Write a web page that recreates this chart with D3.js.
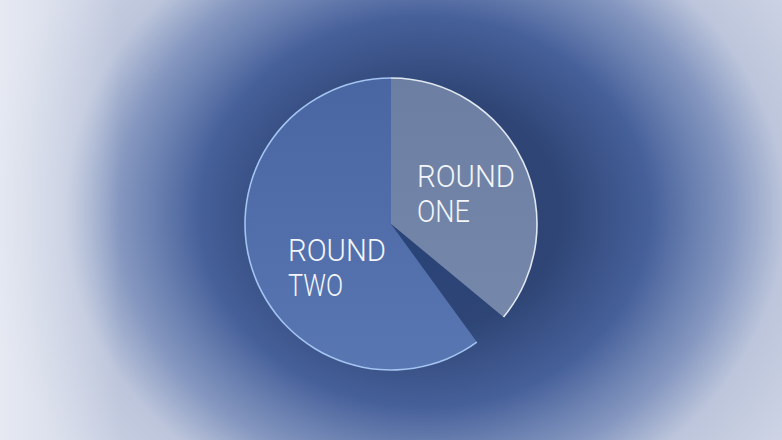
<!DOCTYPE html>
<html>
<head>
<meta charset="utf-8">
<script src="https://cdn.jsdelivr.net/npm/d3@7"></script>
<style>
  html, body { margin: 0; padding: 0; background: #2a4170; }
  svg { display: block; }
</style>
</head>
<body>
<div id="chart"></div>
<script>
// Dati
const rounds = ["ROUND ONE", "", "ROUND TWO"];   // "" = spicchio vuoto (ombra)
const shares = [36, 4, 60];
const labelLines = [["ROUND", "ONE"], [], ["ROUND", "TWO"]];

// Impostazioni
const width = 782;
const height = 440;
const cx = 391, cy = 224;
const radius = 146;

const svg = d3.select("#chart")
    .append("svg")
    .attr("width", width)
    .attr("height", height);

const defs = svg.append("defs");

// Sfondo: vignetta radiale
const bg = defs.append("radialGradient")
    .attr("id", "bg")
    .attr("gradientUnits", "userSpaceOnUse")
    .attr("cx", 0).attr("cy", 0).attr("r", 1)
    .attr("gradientTransform", "translate(425,212) scale(450,390)");
[[0, "#2a4170"], [0.3, "#2e4575"], [0.5, "#46609a"], [0.6, "#6a80b0"],
 [0.68, "#8597c0"], [0.8, "#bcc5db"], [1, "#cfd5e6"]]
    .forEach(([o, c]) => bg.append("stop").attr("offset", o).attr("stop-color", c));

// schiarita sul lato sinistro
const fade = defs.append("linearGradient")
    .attr("id", "fade")
    .attr("gradientUnits", "userSpaceOnUse")
    .attr("x1", 0).attr("y1", 0).attr("x2", 120).attr("y2", 0);
fade.append("stop").attr("offset", 0).attr("stop-color", "#f2f4f9").attr("stop-opacity", 0.65);
fade.append("stop").attr("offset", 1).attr("stop-color", "#f2f4f9").attr("stop-opacity", 0);

svg.append("rect")
    .attr("width", width)
    .attr("height", height)
    .attr("fill", "url(#bg)");
svg.append("rect")
    .attr("width", width)
    .attr("height", height)
    .attr("fill", "url(#fade)");

// Gradienti degli spicchi
function linear(id, top, bottom) {
    const g = defs.append("linearGradient")
        .attr("id", id)
        .attr("gradientUnits", "userSpaceOnUse")
        .attr("x1", 0).attr("y1", -radius).attr("x2", 0).attr("y2", radius);
    g.append("stop").attr("offset", 0).attr("stop-color", top);
    g.append("stop").attr("offset", 1).attr("stop-color", bottom);
}
linear("one", "#6c7fa3", "#7789ab");
linear("two", "#4a66a2", "#5876b2");

const shadow = defs.append("radialGradient")
    .attr("id", "shadow")
    .attr("gradientUnits", "userSpaceOnUse")
    .attr("cx", 0).attr("cy", 0).attr("r", radius);
shadow.append("stop").attr("offset", 0).attr("stop-color", "#2a4680").attr("stop-opacity", 0.55);
shadow.append("stop").attr("offset", 1).attr("stop-color", "#2a4680").attr("stop-opacity", 0);

const fills = ["url(#one)", "url(#shadow)", "url(#two)"];
const rims = ["#dfe6f0", null, "#a3c3f0"];

const pie = d3.pie().sort(null).value(d => d);
const arcs = pie(shares);

const arc = d3.arc().innerRadius(0).outerRadius(radius);
const rim = d3.arc().innerRadius(radius - 0.8).outerRadius(radius + 0.8);

const g = svg.append("g")
    .attr("transform", `translate(${cx}, ${cy})`);

g.selectAll("path.slice")
    .data(arcs)
    .join("path")
    .attr("class", "slice")
    .attr("fill", (d, i) => fills[i])
    .attr("d", arc);

g.selectAll("path.rim")
    .data(arcs.filter((d, i) => rims[i]))
    .join("path")
    .attr("class", "rim")
    .attr("fill", d => rims[d.index])
    .attr("d", rim);

// Etichette
const labelPos = [[26, -37], null, [-103, 37]];
const labelWidths = [[98, 53], null, [98, 55]];
const lineGap = 34.5;

arcs.forEach((d, i) => {
    if (!labelLines[i].length) return;
    const t = g.append("text")
        .attr("fill", "#f3f5f9")
        .attr("font-family", "Roboto, 'DejaVu Sans', sans-serif")
        .attr("font-weight", 300)
        .attr("font-size", "32px");
    labelLines[i].forEach((line, j) => {
        t.append("tspan")
            .attr("x", labelPos[i][0])
            .attr("y", labelPos[i][1] + j * lineGap)
            .attr("textLength", labelWidths[i][j])
            .attr("lengthAdjust", "spacingAndGlyphs")
            .text(line);
    });
});
</script>
</body>
</html>
